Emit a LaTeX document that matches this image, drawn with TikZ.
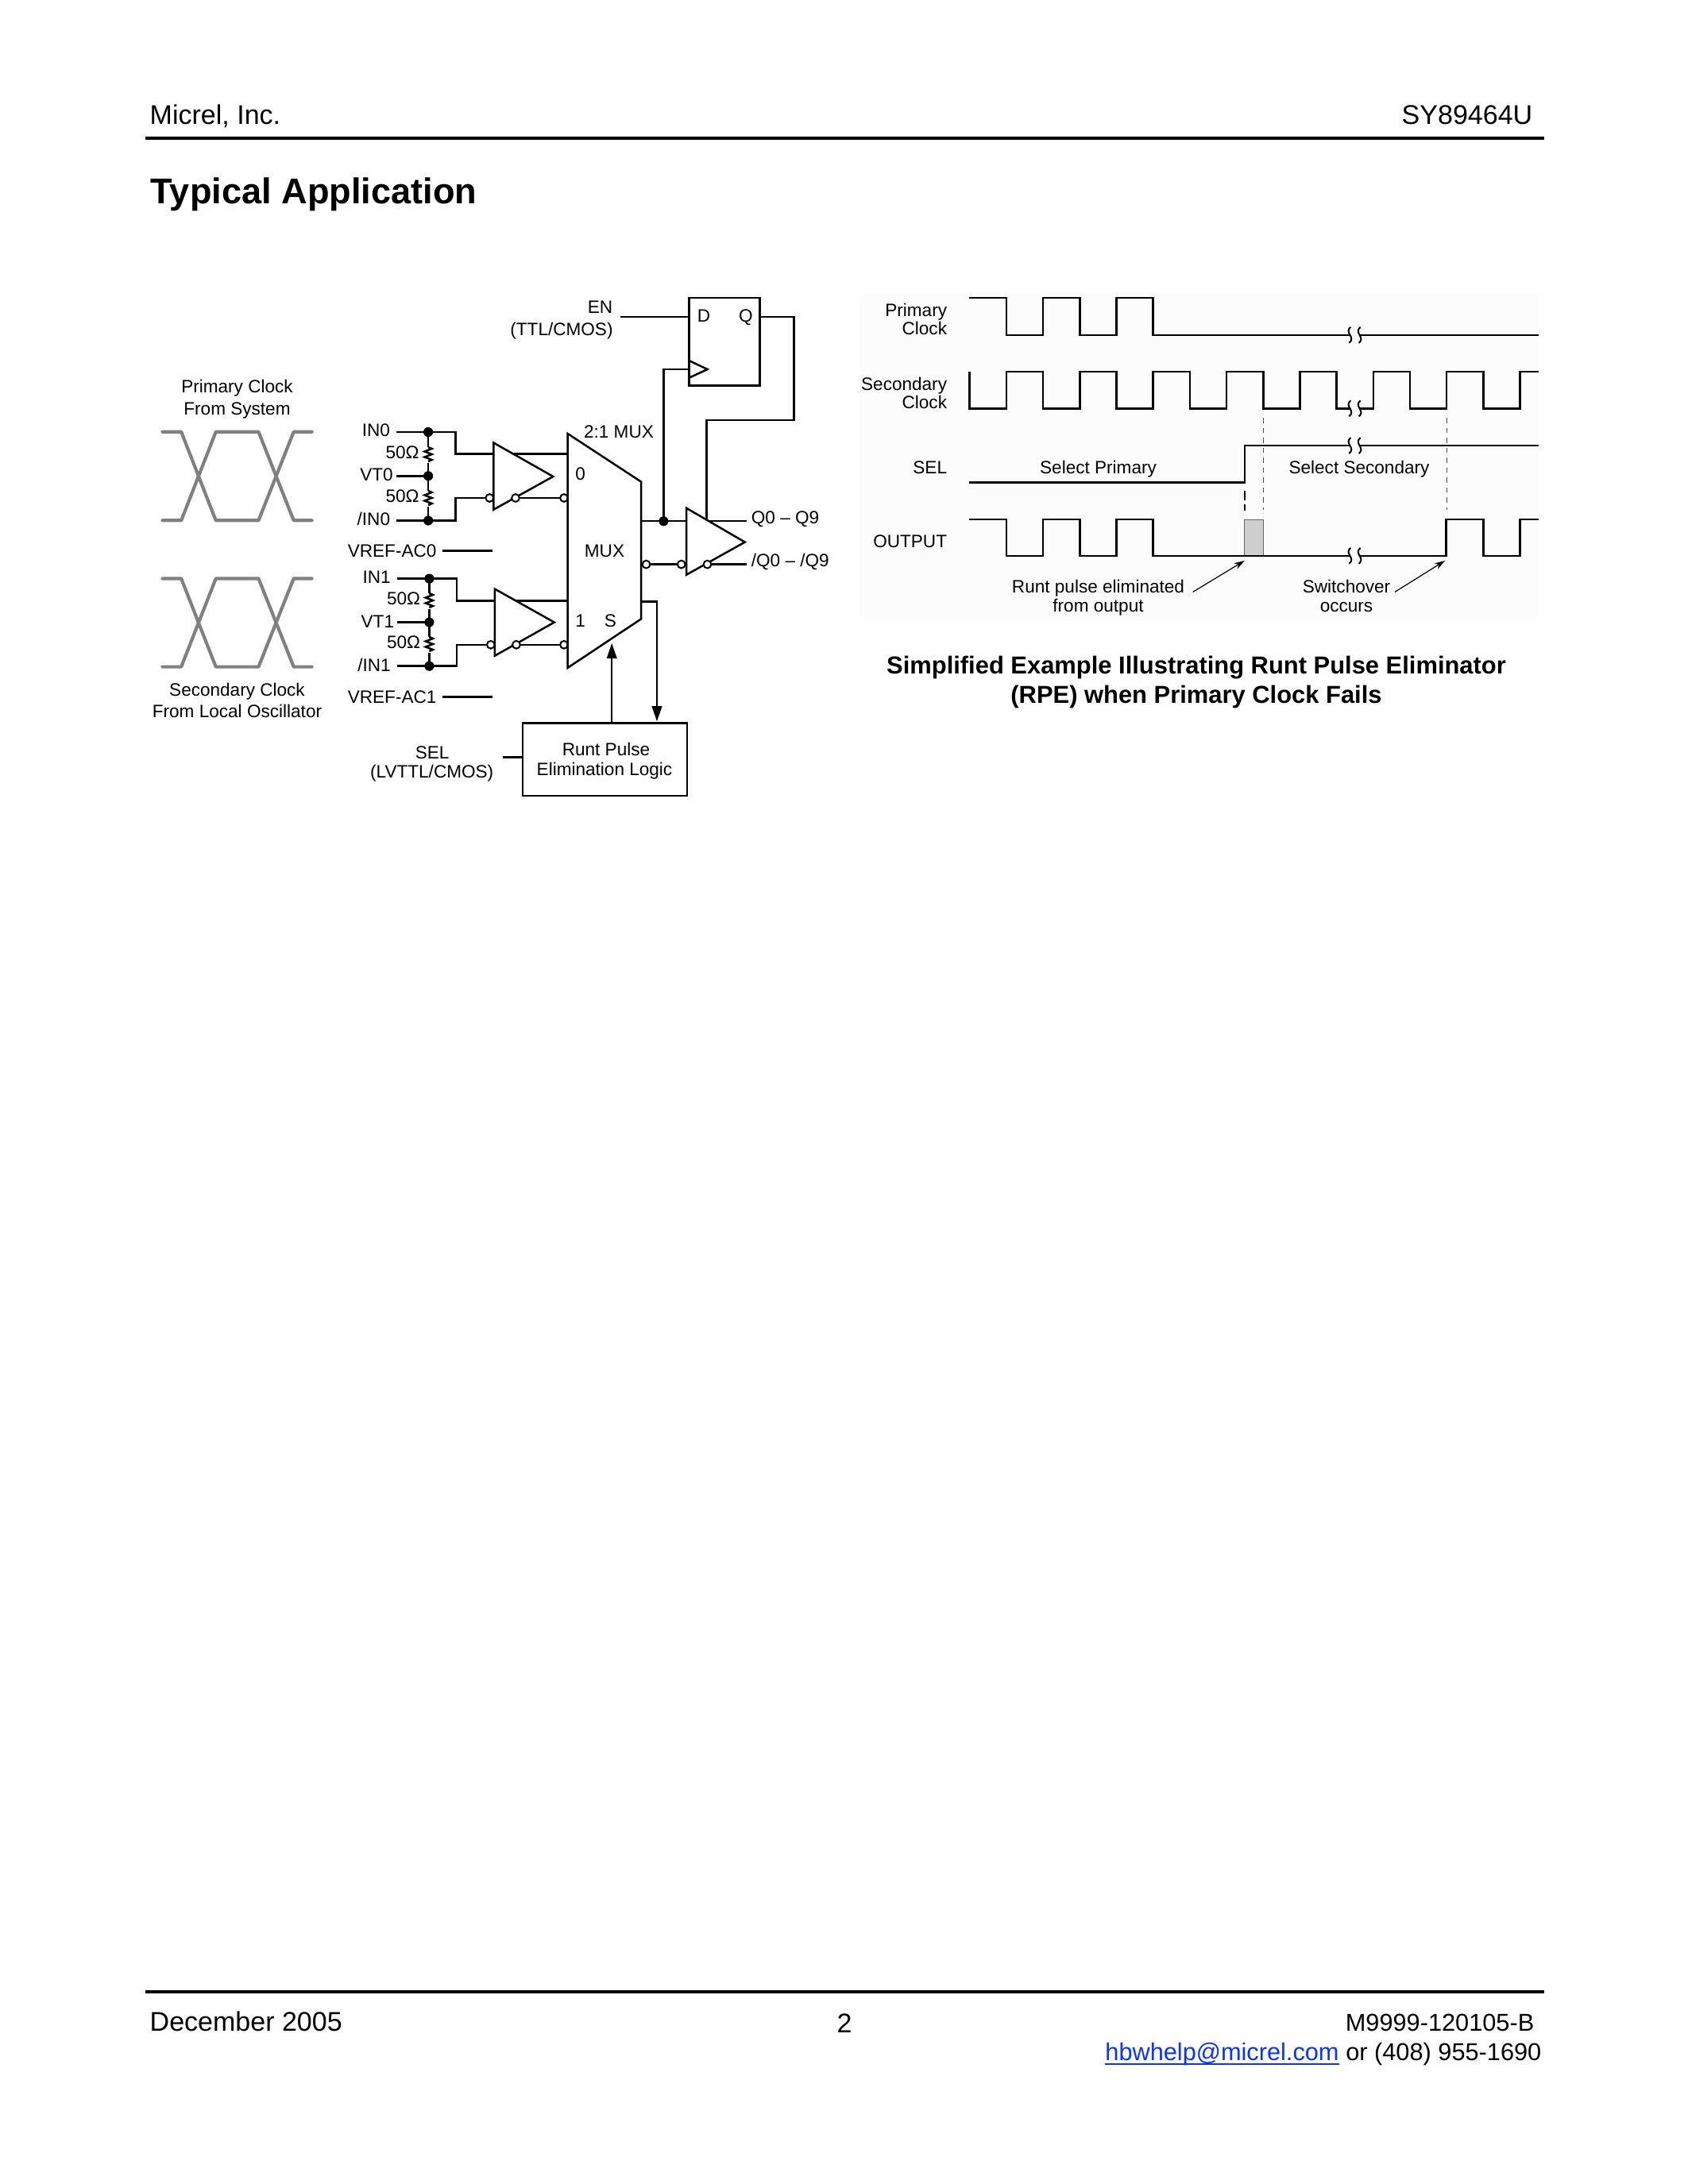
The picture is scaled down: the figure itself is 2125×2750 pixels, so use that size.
\documentclass[tikz,border=0pt]{standalone}
\usepackage{fontspec}
\setmainfont{Liberation Sans}
\usetikzlibrary{arrows.meta,calc}
\definecolor{linkblue}{HTML}{0A35F5}
\definecolor{eyegray}{HTML}{808080}
\definecolor{bgpale}{HTML}{FCFCFC}
\newcommand{\dfont}{\fontsize{6.5bp}{7.8bp}\selectfont}
\newcommand{\tickbreak}[2]{%
  \fill[bgpale] (#1-6.2,#2-3) rectangle (#1+6.2,#2+3);
  \draw[thinw] (#1-5.2,#2-10) .. controls (#1-14,#2-3) and (#1+2,#2+3) .. (#1-7.2,#2+10);
  \draw[thinw] (#1+7.2,#2-10) .. controls (#1-2,#2-3) and (#1+14,#2+3) .. (#1+5.2,#2+10);
}
\newcommand{\eyediagram}[2]{%
  \draw[eyew] (204.5,#1) -- (228.2,#1) -- (271.7,#2) -- (325.5,#2) -- (369.7,#1) -- (392.6,#1);
  \draw[eyew] (204.5,#2) -- (228.2,#2) -- (271.7,#1) -- (325.5,#1) -- (369.7,#2) -- (392.6,#2);
}
\newcommand{\resist}[3]{% x, top, bottom of the coil
  \draw[wire] (#1,#2) -- ++(4.5,2) -- ++(-9,3.5) -- ++(9,3.5) -- ++(-9,3.5) -- ++(9,3.5) -- ++(-4.5,2);
}
\tikzset{
  wire/.style={line width=0.72bp,line join=miter},
  thinw/.style={line width=0.58bp},
  eyew/.style={line width=1.2bp,color=eyegray,line join=round,line cap=round},
  lab/.style={font=\dfont,inner sep=0pt,align=center,yshift=0.5bp},
  labr/.style={lab,anchor=mid east,xshift=0.5bp},
  labl/.style={lab,anchor=mid west},
  labc/.style={lab,anchor=mid},
  dotn/.style={circle,fill=black,inner sep=0pt,minimum size=3.5bp},
  bub/.style={circle,draw=black,line width=0.58bp,fill=white,inner sep=0pt,minimum size=2.8bp},
  gatebody/.style={wire,fill=white},
  dashg/.style={line width=0.3bp,color=black!70,dash pattern=on 2bp off 1.6bp},
  dashk/.style={line width=0.4bp,color=black,dash pattern=on 3.5bp off 1.2bp},
  solidhead/.style={-{Triangle[length=5.6bp,width=3.6bp]}},
  fine/.style={line width=0.35bp,-{Stealth[length=3.8bp,width=2.4bp]}},
  pagetext/.style={font=\fontsize{9.8bp}{12bp}\selectfont,inner sep=0pt},
  foottext/.style={font=\fontsize{8.85bp}{11bp}\selectfont,inner sep=0pt},
}
\begin{document}
\begin{tikzpicture}[x=0.288bp,y=-0.288bp]
\fill[white] (0,0) rectangle (2125,2750);
\useasboundingbox (0,0) rectangle (2125,2750);

% ---------- page furniture
\node[pagetext,anchor=base west] (hleft) at (188,156.5) {Micrel, Inc.};
\node[pagetext,anchor=base east] (hright) at (1930,156.5) {SY89464U};
\coordinate (hl1) at (183,174); \coordinate (hl2) at (1944,174);
\draw[line width=1.15bp] (hl1) -- (hl2);
\node[anchor=base west,inner sep=0pt,font=\fontsize{13bp}{15bp}\selectfont\bfseries] (title) at (189,256.5) {Typical Application};
\coordinate (fl1) at (183,2508); \coordinate (fl2) at (1944,2508);
\draw[line width=1.15bp] (fl1) -- (fl2);
\node[pagetext,anchor=base west] (fdate) at (188,2557) {December 2005};
\node[pagetext,anchor=base] (fpage) at (1063,2559) {2};
\node[foottext,anchor=base east] (fdoc) at (1932,2557) {M9999-120105-B};
\node[foottext,anchor=base east] (fphone) at (1941,2594) {or (408) 955-1690};
\node[foottext,anchor=base east,text=linkblue] (flink) at ([xshift=-2.1bp]fphone.base west) {hbwhelp@micrel.com};
\draw[linkblue,line width=0.55bp] ([yshift=-1.4bp]flink.base west) -- ([yshift=-1.4bp]flink.base east);

% ---------- eye diagrams
\eyediagram{543.8}{655.3}
\eyediagram{728.5}{839.6}
\node[labc] (t1) at (298.5,487) {Primary Clock};
\node[labc] (t2) at (298.5,514.8) {From System};
\node[labc] (t3) at (298.5,869.5) {Secondary Clock};
\node[labc] (t4) at (298.5,896.5) {From Local Oscillator};

% ---------- coordinates of the schematic
\coordinate (muxTL) at (714.6,546);
\coordinate (muxBL) at (714.6,840.9);
\coordinate (muxTR) at (807.2,606.7);
\coordinate (muxBR) at (807.2,779.3);

% input network 0
\node[labr] (in0) at (490,542.5) {IN0};
\node[labr] (r0a) at (526.5,570) {50Ω};
\node[labr] (vt0) at (493.7,598.5) {VT0};
\node[labr] (r0b) at (526.5,625) {50Ω};
\node[labr] (nin0) at (490,654) {/IN0};
\node[labr] (vrefa) at (548.4,694) {VREF-AC0};
\coordinate (in0s) at (499.1,544);
\coordinate (vt0s) at (499.1,599.3);
\coordinate (nin0s) at (499.1,655.5);
\node[dotn] (d0a) at (539.1,544) {};
\node[dotn] (d0b) at (539.1,599.3) {};
\node[dotn] (d0c) at (539.1,655.5) {};
\coordinate (v0ae) at (556.8,693.5); \coordinate (v0af) at (620.3,693.5);
\draw[wire] (in0s) -- (d0a.center) -- (573.6,544) |- (714.6,571.7);
\draw[wire] (nin0s) -- (d0c.center) -- (573.6,655.5) |- (616.3,627);
\draw[wire] (vt0s) -- (d0b.center);
\draw[wire] (d0a.center) -- (539.1,563);
\resist{539.1}{563}{}
\draw[wire] (539.1,583) -- (d0b.center);
\draw[wire] (d0b.center) -- (539.1,618);
\resist{539.1}{618}{}
\draw[wire] (539.1,638) -- (d0c.center);
\draw[wire] (v0ae) -- (v0af);
\draw[wire] (649,627) -- (710,627);
\draw[gatebody] (621.3,557.5) -- (696.3,600) -- (621.3,641.7) -- cycle;
\node[bub] (b0a) at (616.3,627) {};
\node[bub] (b0b) at (649,627) {};
\node[bub] (b0c) at (710,627) {};

% input network 1
\node[labr] (in1) at (490.7,727.5) {IN1};
\node[labr] (r1a) at (528,754.5) {50Ω};
\node[labr] (vt1) at (495,783) {VT1};
\node[labr] (r1b) at (528,809.5) {50Ω};
\node[labr] (nin1) at (490.7,838.5) {/IN1};
\node[labr] (vrefb) at (548.4,878) {VREF-AC1};
\coordinate (in1s) at (500,728.6);
\coordinate (vt1s) at (500,783.6);
\coordinate (nin1s) at (500,838.7);
\node[dotn] (d1a) at (540.4,728.6) {};
\node[dotn] (d1b) at (540.4,783.6) {};
\node[dotn] (d1c) at (540.4,838.7) {};
\coordinate (v1ae) at (556.8,877.7); \coordinate (v1af) at (620.3,877.7);
\draw[wire] (in1s) -- (d1a.center) -- (574.9,728.6) |- (714.6,756.3);
\draw[wire] (nin1s) -- (d1c.center) -- (574.9,838.7) |- (617.8,811.8);
\draw[wire] (vt1s) -- (d1b.center);
\draw[wire] (d1a.center) -- (540.4,747);
\resist{540.4}{747}{}
\draw[wire] (540.4,767) -- (d1b.center);
\draw[wire] (d1b.center) -- (540.4,802);
\resist{540.4}{802}{}
\draw[wire] (540.4,822) -- (d1c.center);
\draw[wire] (v1ae) -- (v1af);
\draw[wire] (650,811.8) -- (710,811.8);
\draw[gatebody] (622.9,741.6) -- (697.8,783.6) -- (622.9,825.7) -- cycle;
\node[bub] (b1a) at (617.8,811.8) {};
\node[bub] (b1b) at (650,811.8) {};
\node[bub] (b1c) at (710,811.8) {};

% multiplexer
\draw[gatebody] (muxTL) -- (muxTR) -- (muxBR) -- (muxBL) -- cycle;
\node[labc] (m21) at (779,544) {2:1 MUX};
\node[labc] (m0) at (730.6,597) {0};
\node[labc] (m1) at (730.6,782) {1};
\node[labc] (mS) at (768.5,782) {S};
\node[labc] (mM) at (761,694.5) {MUX};

% flip-flop
\node[draw=black,line width=0.72bp,fill=white,minimum width=25.7bp,minimum height=31.7bp,inner sep=0pt] (ff) at (912,430.25) {};
\node[labc] (ffD) at (886,398.5) {D};
\node[labc] (ffQ) at (939,398) {Q};
\node[labr] (en) at (770.2,387) {EN};
\node[labr] (ttl) at (770.5,415) {(TTL/CMOS)};
\coordinate (ens) at (780.7,399);
\draw[wire] (ens) -- (ens -| ff.west);
\coordinate (clkT) at (867.4,454); \coordinate (clkB) at (867.4,475.8); \coordinate (clkP) at (890.5,465);
\draw[wire] (clkT) -- (clkP) -- (clkB);

% output buffer and feedback
\node[dotn] (dq) at (835.4,656.2) {};
\coordinate (qend) at (939.8,656.2);
\coordinate (nqend) at (939.8,710.6);
\coordinate (qfb) at (889.3,656.2);
\coordinate (mq) at (807.2,656.2);
\draw[wire] (mq) -- (qend);
\draw[wire] (dq.center) |- (867.4,465);
\draw[wire] (ff.east |- 0,399) -- (999.6,399) -- (999.6,529.1) -| (qfb);
\draw[gatebody] (864,639.7) -- (937.7,682.6) -- (864,723.8) -- cycle;
\node[bub] (bqa) at (813.5,710.6) {};
\node[bub] (bqb) at (857.7,710.6) {};
\node[bub] (bqc) at (890.5,710.6) {};
\draw[wire] (bqa) -- (bqb);
\draw[wire] (bqc) -- (nqend);
\node[labl] (q1) at (945.2,652) {Q0 -- Q9};
\node[labl] (q2) at (945.2,706.5) {/Q0 -- /Q9};

% runt pulse logic
\node[draw=black,line width=0.72bp,minimum width=59.6bp,minimum height=26.35bp,inner sep=0pt] (rpe) at (761.35,956) {};
\node[labc] (rp1) at (763,944) {Runt Pulse};
\node[labc] (rp2) at (761,969.5) {Elimination Logic};
\node[labc] (sel) at (544.2,948.5) {SEL};
\node[labc] (lv) at (543.7,972.5) {(LVTTL/CMOS)};
\coordinate (sels) at (633.4,953.6);
\draw[wire] (sels) -- (sels -| rpe.west);
\coordinate (sup) at (770.2,809.7);
\draw[wire,solidhead] (sup |- rpe.north) -- (sup);
\coordinate (mdn) at (807.2,757.6);
\draw[wire,solidhead] (mdn) -- (827,757.6) -- (827,908.5);

% ---------- timing diagram
\fill[bgpale] (1082.6,370) rectangle (1936.8,776.8);
\node[labr] (pc1) at (1191,391) {Primary};
\node[labr] (pc2) at (1191,413.6) {Clock};
\node[labr] (sc1) at (1191,484) {Secondary};
\node[labr] (sc2) at (1191,507.5) {Clock};
\node[labr] (ssel) at (1191,589) {SEL};
\node[labr] (sout) at (1191,682) {OUTPUT};
\node[labc] (sp) at (1382.5,589.5) {Select Primary};
\node[labc] (ss) at (1711,589.5) {Select Secondary};
\node[labc] (rn1) at (1382.5,739.5) {Runt pulse eliminated};
\node[labc] (rn2) at (1382.5,763) {from output};
\node[labc] (sw1) at (1695,739.5) {Switchover};
\node[labc] (sw2) at (1695,763) {occurs};

\fill[black!19] (1566.7,654.3) rectangle (1590,699.8);
\draw[line width=0.3bp,black!60] (1566.7,654.3) rectangle (1590,699.8);
\draw[dashg] (1590,526) -- (1590,642);
\draw[dashg] (1821,526) -- (1821,642);
\draw[dashk] (1566.9,618.3) -- (1566.9,642.7);

\draw[wire] (1220.4,375) -| (1266.9,421.8) -| (1313.1,375) -| (1359.3,421.8) -| (1405.5,375) -| (1451.7,421.8) -- (1936.8,421.8);
\draw[wire] (1220.4,467.9) |- (1266.9,514.3) |- (1313.1,467.9) |- (1359.3,514.3) |- (1405.5,467.9) |- (1451.7,514.3) |- (1497.9,467.9) |- (1544.1,514.3) |- (1590.3,467.9) |- (1636.5,514.3) |- (1682.7,467.9) |- (1728.9,514.3) |- (1775,467.9) |- (1821,514.3) |- (1867.5,467.9) |- (1913.6,514.3) |- (1936.8,467.9);
\draw[wire] (1220.4,607.3) -| (1566.9,561.1) -- (1936.8,561.1);
\draw[wire] (1220.4,654) -| (1266.9,699.8) -| (1313.1,654) -| (1359.3,699.8) -| (1405.5,654) -| (1451.7,699.8) -- (1820.5,699.8) |- (1867.5,654) |- (1913.6,699.8) |- (1936.8,654);
\tickbreak{1705.5}{421.8}
\tickbreak{1705.5}{514.3}
\tickbreak{1705.5}{561.1}
\tickbreak{1705.5}{699.8}
\coordinate (a1s) at (1501.7,745.4); \coordinate (a1e) at (1566.7,706);
\coordinate (a2s) at (1756,745.4); \coordinate (a2e) at (1819,706);
\draw[fine] (a1s) -- (a1e);
\draw[fine] (a2s) -- (a2e);
\node[anchor=mid,inner sep=0pt,align=center,font=\fontsize{8.9bp}{10.8bp}\selectfont\bfseries] (cap1) at (1506,839) {Simplified Example Illustrating Runt Pulse Eliminator};
\node[anchor=mid,inner sep=0pt,align=center,font=\fontsize{8.9bp}{10.8bp}\selectfont\bfseries] (cap2) at (1506,876) {(RPE) when Primary Clock Fails};
\end{tikzpicture}
\end{document}
